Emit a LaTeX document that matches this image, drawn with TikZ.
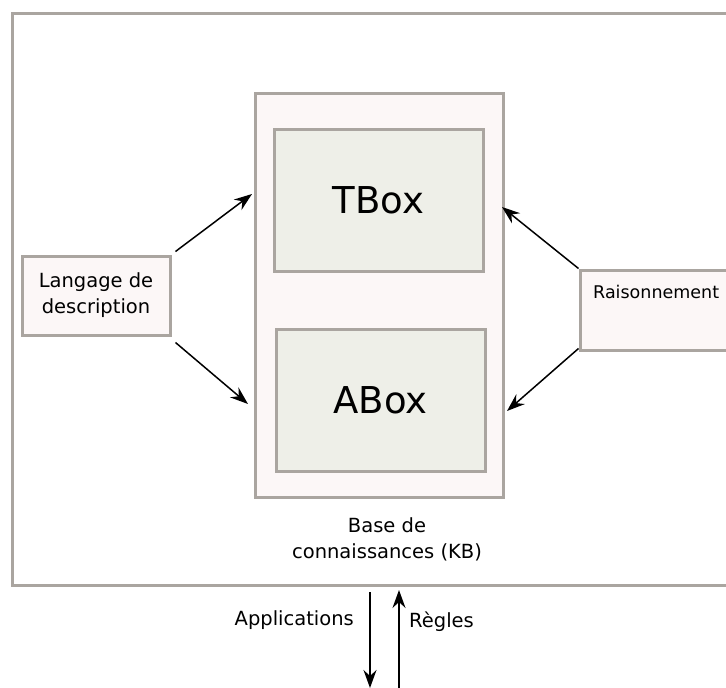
\documentclass[tikz,border=0pt]{standalone}
\usepackage{fontspec}
\setmainfont{DejaVu Sans}
\usetikzlibrary{arrows.meta,positioning,calc}

\definecolor{framegray}{RGB}{170,165,160}
\definecolor{kbpink}{RGB}{252,247,247}
\definecolor{boxgreen}{RGB}{238,239,232}

\tikzset{
  pinkbox/.style={draw=framegray, line width=3pt, fill=kbpink, inner sep=0pt},
  greenbox/.style={draw=framegray, line width=3pt, fill=boxgreen, inner sep=0pt, font=\fontsize{37}{40}\selectfont},
  smalltxt/.style={font=\fontsize{19.5}{26}\selectfont, align=center, inner sep=0pt},
  link/.style={-{Stealth[length=18pt, width=13pt, inset=6pt]}, line width=1.5pt},
}

\begin{document}
\begin{tikzpicture}[x=1pt, y=-1pt, line join=miter]

\useasboundingbox (0,0) rectangle (726,688);
\clip (0,0) rectangle (726,688);

% outer frame
\draw[framegray, line width=3pt] (12,13) rectangle (760,585);

% knowledge base with its two boxes
\node[pinkbox, minimum width=248pt, minimum height=404pt] (kb) at (379,295) {};
\node[greenbox, minimum width=209pt, minimum height=142pt] (tbox) at (378.5,200) {TBox};
\node[greenbox, minimum width=209pt, minimum height=142pt] (abox) at (380.5,400) {ABox};
\node[smalltxt] (kbtxt) at (387,539) {Base de\\connaissances (KB)};

% side boxes
\node[pinkbox, smalltxt, draw=framegray, minimum width=148pt, minimum height=79pt] (lang) at (96,295.5) {Langage de\\description};
\node[pinkbox, minimum width=160pt, minimum height=80pt] (rais) at (660,310) {};
\node[smalltxt, font=\fontsize{17.5}{26}\selectfont, anchor=west] (raistxt) at (593,292) {Raisonnement};

\coordinate (kbtl) at (252,194);
\coordinate (kbbl) at (248,404);
\coordinate (kbtr) at (502,207);
\coordinate (kbbr) at (507,411);
\draw[link] ([shift={(4pt,3pt)}]lang.north east) -- (kbtl);
\draw[link] ([shift={(4pt,-6pt)}]lang.south east) -- (kbbl);
\draw[link] (rais.north west) -- (kbtr);
\draw[link] ([yshift=3pt]rais.south west) -- (kbbr);

% in and out of the base
\coordinate (outtop) at (370,592);
\coordinate (outbot) at (370,688);
\coordinate (intop) at (399,590);
\coordinate (inbot) at (399,690);
\draw[link] (outtop) -- (outbot);
\draw[link] (inbot) -- (intop);
\node[smalltxt, anchor=east] (apps) at (354,620) {Applications};
\node[smalltxt, anchor=west] (regles) at (409,622) {Règles};

\end{tikzpicture}
\end{document}
